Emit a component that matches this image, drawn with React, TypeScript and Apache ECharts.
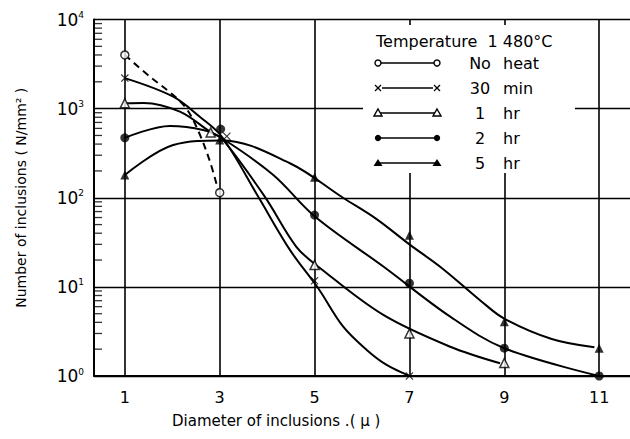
import React, { useEffect, useRef } from "react";
import * as echarts from "echarts";

// Axis ticks
const xTicks = [1, 3, 5, 7, 9, 11];
const minorMantissas = [2, 3, 4, 5, 6, 7, 8, 9];
const minorDecades = [1, 10, 100, 1000];

const seriesNames = ["No heat", "30 min", "1 hr", "2 hr", "5 hr"];

// Measured points (diameter μ, inclusions per mm²)
const noHeatPoints = [[1, 4000], [3, 114]];
const min30Points = [[1, 2200], [3.15, 490], [5, 11.7], [7, 1]];
const hr1Points = [[1, 1150], [2.81, 540], [5, 17.6], [7, 3], [9, 1.4]];
const hr2Points = [[1, 470], [3.02, 590], [5, 64], [7, 11], [9, 2.05], [11, 1]];
const hr5Points = [[1, 180], [3, 446], [5, 170], [7, 38], [9, 4.07], [11, 2.05]];

// Fitted curves drawn through the measurements
const noHeatCurve = [[1, 4000], [1.53, 2280], [2.0, 1450], [2.3, 1000], [2.55, 560], [2.8, 250], [2.97, 120]];
const min30Curve = [
  [1, 2200], [2.01, 1370], [2.58, 810], [3.05, 480], [3.81, 103], [4.48, 26],
  [5.08, 9.6], [5.6, 3.6], [6.1, 1.96], [6.52, 1.33], [7, 1],
];
const hr1Curve = [
  [1, 1150], [1.4, 1160], [2.16, 925], [2.81, 545], [3.05, 460], [3.95, 103],
  [4.62, 28], [5.12, 16.2], [6.45, 4.84], [7.86, 2.13], [8.91, 1.39],
];
const hr2Curve = [
  [1, 470], [1.95, 640], [2.65, 577], [3.05, 465], [4.13, 180], [5, 62],
  [6.45, 16.9], [7.86, 4.63], [9, 2.05], [11, 1],
];
const hr5Curve = [
  [1, 180], [2.02, 391], [3.05, 440], [4.48, 244], [5.6, 100],
  [6.3, 58], [7, 30], [7.7, 16], [8.5, 7], [9, 4.4], [10, 2.6], [10.9, 2.1],
];

const FONT = "DejaVu Sans";
const CROSS = "path://M0,1L1,0L5,4L9,0L10,1L6,5L10,9L9,10L5,6L1,10L0,9L4,5Z";

const curveSeries = (name: string, data: number[][], dashed = false, extra: any = {}) => ({
  name,
  type: "line",
  data,
  smooth: 0.35,
  showSymbol: false,
  symbol: "none",
  silent: true,
  z: 3,
  lineStyle: { color: "#000", width: 2, type: dashed ? [7, 5] : "solid" },
  ...extra,
});

const markerSeries = (name: string, data: number[][], symbol: string, size: number, filled: boolean) => ({
  name,
  type: "scatter",
  data,
  symbol,
  symbolSize: size,
  z: 5,
  itemStyle: filled
    ? { color: "#000" }
    : { color: "#fff", borderColor: "#000", borderWidth: 1.5 },
});

// Legend key: line with a marker at each end
const legendRow = (y: number, kind: string, first: string, unit: string) => {
  const x1 = 378;
  const x2 = 437;
  const marker = (cx: number): any[] => {
    if (kind === "oc") return [{ type: "circle", shape: { cx, cy: y, r: 3 }, style: { fill: "#fff", stroke: "#000", lineWidth: 1.4 }, z: 61 }];
    if (kind === "fc") return [{ type: "circle", shape: { cx, cy: y, r: 3.2 }, style: { fill: "#000" }, z: 61 }];
    if (kind === "ot")
      return [{ type: "polygon", shape: { points: [[cx, y - 4], [cx + 4, y + 3], [cx - 4, y + 3]] }, style: { fill: "#fff", stroke: "#000", lineWidth: 1.4 }, z: 61 }];
    if (kind === "ft")
      return [{ type: "polygon", shape: { points: [[cx, y - 4], [cx + 4.5, y + 3], [cx - 4.5, y + 3]] }, style: { fill: "#000" }, z: 61 }];
    return [
      { type: "line", shape: { x1: cx - 3, y1: y - 3, x2: cx + 3, y2: y + 3 }, style: { stroke: "#000", lineWidth: 1.3 }, z: 61 },
      { type: "line", shape: { x1: cx - 3, y1: y + 3, x2: cx + 3, y2: y - 3 }, style: { stroke: "#000", lineWidth: 1.3 }, z: 61 },
    ];
  };
  const lineStart = kind === "x" ? x1 + 4 : x1;
  const lineEnd = kind === "x" ? x2 - 4 : x2;
  return [
    { type: "line", shape: { x1: lineStart, y1: y, x2: lineEnd, y2: y }, style: { stroke: "#000", lineWidth: 1.5 }, z: 60 },
    ...marker(x1),
    ...marker(x2),
    { type: "text", x: 480, y, style: { text: first, font: `16px "${FONT}"`, fill: "#000", align: "center", verticalAlign: "middle" }, z: 61 },
    { type: "text", x: 503, y, style: { text: unit, font: `16px "${FONT}"`, fill: "#000", align: "left", verticalAlign: "middle" }, z: 61 },
  ];
};

const minorTickData: number[][] = [];
minorDecades.forEach((d) => minorMantissas.forEach((m) => minorTickData.push([0.35, m * d])));

export default function App() {
  const ref = useRef<HTMLDivElement>(null);

  useEffect(() => {
    document.body.style.margin = "0";
    const chart = echarts.init(ref.current!, undefined, { renderer: "svg" });
    const option: any = {
      animation: false,
      backgroundColor: "#fff",
      grid: { left: 94, right: 0, top: 19.5, bottom: 63 },
      xAxis: {
        type: "value",
        min: 0.35,
        max: 11.65,
        axisLine: { show: true, onZero: false, lineStyle: { color: "#000", width: 2 } },
        axisTick: { show: false },
        splitLine: { show: false },
        axisLabel: {
          customValues: xTicks,
          color: "#000",
          fontFamily: FONT,
          fontSize: 16,
          margin: 13,
        },
      },
      yAxis: {
        type: "log",
        logBase: 10,
        min: 1,
        max: 10000,
        name: "Number of inclusions ( N/mm² )",
        nameLocation: "middle",
        nameGap: 66,
        nameTextStyle: { color: "#000", fontFamily: FONT, fontSize: 14 },
        axisLine: { show: true, lineStyle: { color: "#000", width: 2 } },
        axisTick: { show: false },
        splitLine: { show: true, lineStyle: { color: "#000", width: 1.4 } },
        axisLabel: {
          margin: 10,
          formatter: (v: number) => `{m|10}{e|${Math.round(Math.log10(v))}}`,
          rich: {
            m: { fontFamily: FONT, fontSize: 17, color: "#000" },
            e: { fontFamily: FONT, fontSize: 9, color: "#000", padding: [0, 0, 9, 0] },
          },
        },
      },
      series: [
        {
          type: "scatter",
          data: minorTickData,
          symbol: "rect",
          symbolSize: [8, 1.3],
          symbolOffset: [4, 0],
          itemStyle: { color: "#000" },
          silent: true,
          z: 4,
        },
        curveSeries(seriesNames[0], noHeatCurve, true, {
          markLine: {
            silent: true,
            symbol: "none",
            label: { show: false },
            lineStyle: { color: "#000", width: 1.6, type: "solid" },
            data: xTicks.map((v) => ({ xAxis: v })),
            z: 1,
          },
        }),
        curveSeries(seriesNames[1], min30Curve),
        curveSeries(seriesNames[2], hr1Curve),
        curveSeries(seriesNames[3], hr2Curve),
        curveSeries(seriesNames[4], hr5Curve),
        markerSeries(seriesNames[0], noHeatPoints, "circle", 8, false),
        markerSeries(seriesNames[1], min30Points, CROSS, 8, true),
        markerSeries(seriesNames[2], hr1Points, "triangle", 9, false),
        markerSeries(seriesNames[3], hr2Points, "circle", 9, true),
        markerSeries(seriesNames[4], hr5Points, "triangle", 9, true),
      ],
      graphic: [
        { type: "rect", shape: { x: 363, y: 25, width: 212, height: 148 }, style: { fill: "#fff" }, z: 50 },
        {
          type: "text",
          x: 376,
          y: 41,
          style: { text: "Temperature  1 480°C", font: `16px "${FONT}"`, fill: "#000", verticalAlign: "middle" },
          z: 61,
        },
        ...legendRow(63, "oc", "No", "heat"),
        ...legendRow(88, "x", "30", "min"),
        ...legendRow(113, "ot", "1", "hr"),
        ...legendRow(138, "fc", "2", "hr"),
        ...legendRow(163, "ft", "5", "hr"),
        {
          type: "text",
          x: 172,
          y: 421,
          style: { text: "Diameter of inclusions .( μ )", font: `15px "${FONT}"`, fill: "#000", verticalAlign: "middle" },
        },
      ],
    };
    chart.setOption(option);
    return () => chart.dispose();
  }, []);

  return (
    <div
      ref={ref}
      style={{ position: "absolute", left: 0, top: 0, width: 630, height: 439, background: "#fff" }}
    />
  );
}
